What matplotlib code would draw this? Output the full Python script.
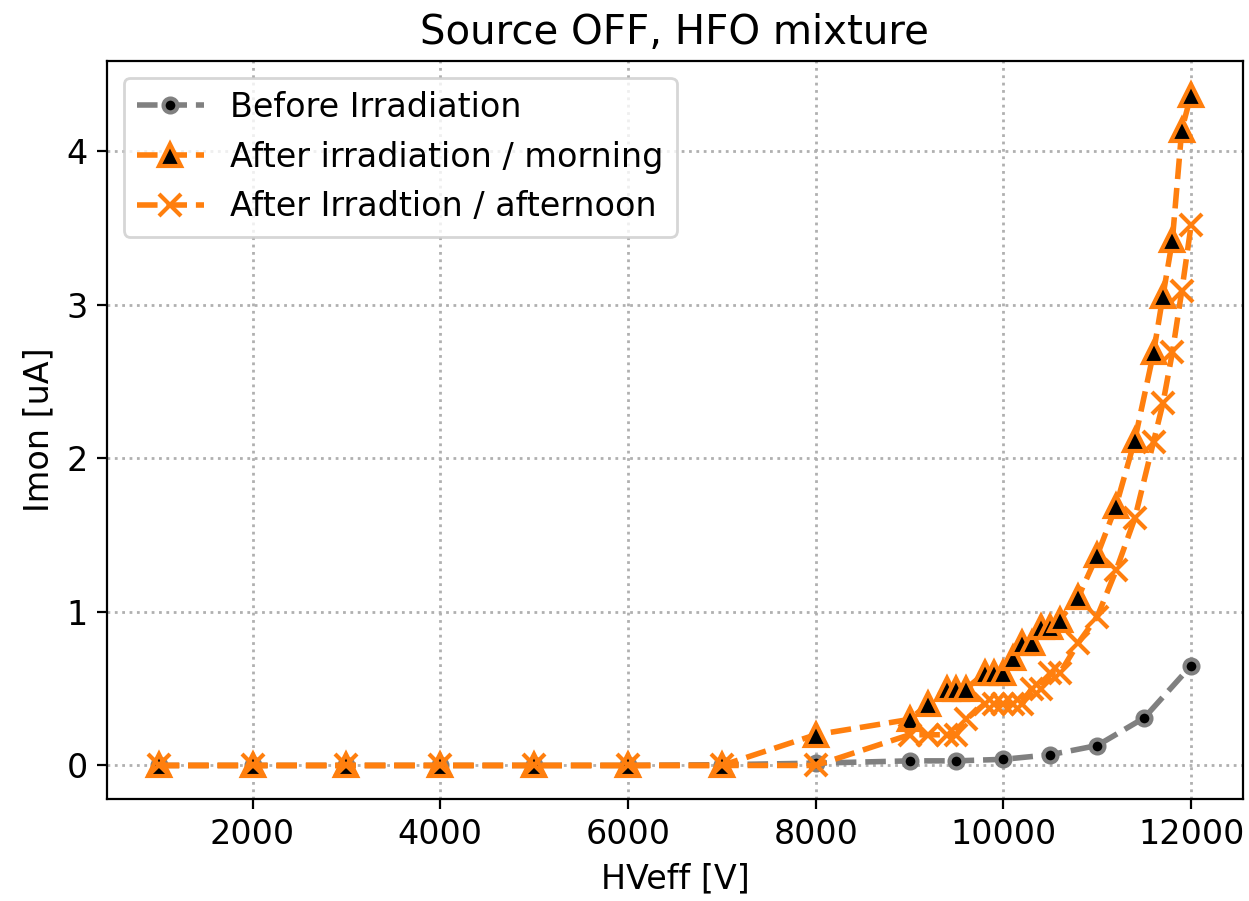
import numpy as np
import matplotlib
matplotlib.use("Agg")
import matplotlib.pyplot as plt

# Before irradiation
hv_before = [1000, 2000, 3000, 4000, 5000, 6000, 7000, 8000,
             9000, 9500, 10000, 10500, 11000, 11500, 12000]
i_before = [0, 0, 0, 0, 0, 0, 0.005, 0.015,
            0.03, 0.03, 0.04, 0.07, 0.13, 0.31, 0.65]

# After irradiation / morning
hv_morning = [1000, 2000, 3000, 4000, 5000, 6000, 7000, 8000,
              9000, 9200, 9400, 9500, 9600, 9800, 9900, 10000,
              10100, 10200, 10300, 10400, 10500, 10600, 10800,
              11000, 11200, 11400, 11600, 11700, 11800, 11900, 12000]
i_morning = [0, 0, 0, 0, 0, 0, 0, 0.2,
             0.3, 0.4, 0.5, 0.5, 0.5, 0.6, 0.6, 0.6,
             0.7, 0.8, 0.8, 0.9, 0.9, 0.95, 1.1,
             1.37, 1.69, 2.12, 2.69, 3.06, 3.42, 4.14, 4.37]

# After irradiation / afternoon
hv_afternoon = [1000, 2000, 3000, 4000, 5000, 6000, 7000, 8000,
                9000, 9200, 9400, 9500, 9600, 9800, 9900, 10000,
                10100, 10200, 10300, 10400, 10500, 10600, 10800,
                11000, 11200, 11400, 11600, 11700, 11800, 11900, 12000]
i_afternoon = [0, 0, 0, 0, 0, 0, 0, 0,
               0.2, 0.2, 0.2, 0.2, 0.3, 0.4, 0.4, 0.4,
               0.4, 0.4, 0.5, 0.5, 0.6, 0.6, 0.8,
               0.97, 1.27, 1.61, 2.11, 2.36, 2.69, 3.09, 3.52]

fig = plt.figure(figsize=(6.245, 4.505), dpi=200)
ax = fig.add_axes([0.0857, 0.1132, 0.9093, 0.8191])

ax.plot(hv_before, i_before, '--o', color='grey', lw=2, ms=5,
        mfc='black', mec='grey', mew=1.5, label='Before Irradiation')
ax.plot(hv_morning, i_morning, '--^', color='#ff7f0e', lw=2, ms=8,
        mfc='black', mec='#ff7f0e', mew=1.5, label='After irradiation / morning')
ax.plot(hv_afternoon, i_afternoon, '--x', color='#ff7f0e', lw=2, ms=8,
        mew=1.5, label='After Irradtion / afternoon')

ax.grid(True, linestyle=':', color='#b0b0b0', lw=1)
ax.set_xlabel('HVeff [V]', fontsize=12)
ax.set_ylabel('Imon [uA]', fontsize=12)
ax.set_title('Source OFF, HFO mixture', fontsize=14.5)
ax.tick_params(labelsize=12)
ax.legend(loc='upper left', fontsize=12)

fig.savefig('out.png', dpi=200)
